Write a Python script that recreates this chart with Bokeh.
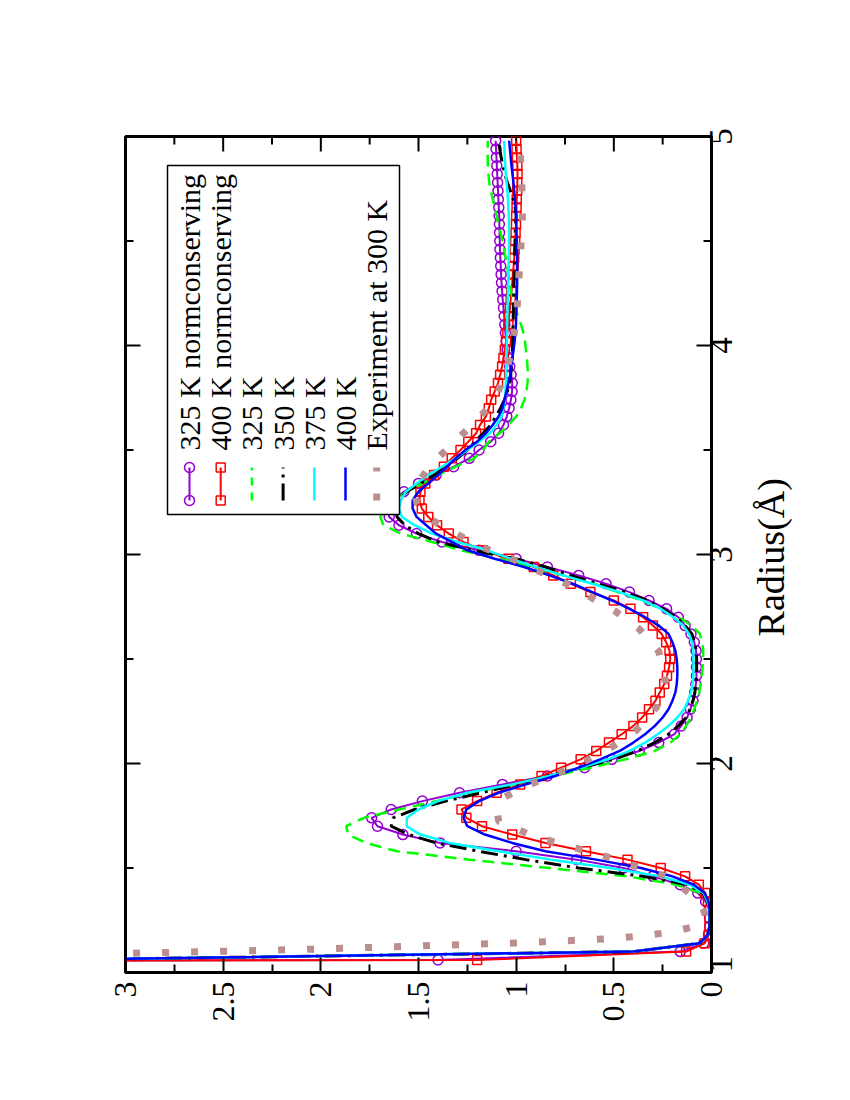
import math
from bokeh.plotting import figure
from bokeh.models import Range1d, FixedTicker, NumeralTickFormatter, LinearAxis
from bokeh.core.properties import value
from bokeh.embed import file_html
from bokeh.resources import INLINE

# ---------------- data ----------------
# common radius grid of the simulations (Angstrom)
R_SIM = [round(1.02 + 0.04 * i, 2) for i in range(100)]

G_325_NC = [25.0, 1.40, 0.16, 0.04, 0.015, 0.01, 0.01, 0.012, 0.03, 0.07,
            0.16, 0.30, 0.45, 0.69, 1.00, 1.39, 1.58, 1.71, 1.74, 1.64,
            1.48, 1.29, 1.07, 0.84, 0.65, 0.51, 0.37, 0.27, 0.19, 0.155,
            0.125, 0.108, 0.095, 0.086, 0.08, 0.077, 0.077, 0.077, 0.079, 0.088,
            0.105, 0.135, 0.17, 0.23, 0.32, 0.42, 0.54, 0.68, 0.84, 1.00,
            1.19, 1.38, 1.51, 1.60, 1.65, 1.66, 1.63, 1.575, 1.50, 1.41,
            1.32, 1.24, 1.19, 1.13, 1.09, 1.065, 1.048, 1.036, 1.027, 1.021,
            1.02, 1.026, 1.033, 1.04, 1.046, 1.051, 1.055, 1.058, 1.061, 1.065,
            1.069, 1.072, 1.075, 1.077, 1.079, 1.081, 1.083, 1.084, 1.085, 1.086,
            1.087, 1.089, 1.091, 1.093, 1.095, 1.097, 1.099, 1.101, 1.103, 1.105]

G_400_NC = [25.0, 1.20, 0.13, 0.035, 0.015, 0.01, 0.01, 0.01, 0.018, 0.032,
            0.065, 0.135, 0.26, 0.43, 0.643, 0.85, 1.02, 1.175, 1.255, 1.28,
            1.20, 1.10, 0.98, 0.87, 0.77, 0.67, 0.59, 0.525, 0.46, 0.40,
            0.355, 0.32, 0.287, 0.265, 0.242, 0.228, 0.217, 0.211, 0.215, 0.232,
            0.255, 0.30, 0.35, 0.415, 0.50, 0.62, 0.72, 0.81, 0.91, 1.04,
            1.17, 1.27, 1.345, 1.405, 1.45, 1.483, 1.495, 1.49, 1.465, 1.42,
            1.37, 1.33, 1.285, 1.245, 1.205, 1.185, 1.155, 1.14, 1.128, 1.11,
            1.093, 1.082, 1.072, 1.065, 1.058, 1.052, 1.045, 1.04, 1.036, 1.032,
            1.028, 1.024, 1.02, 1.017, 1.013, 1.01, 1.008, 1.005, 1.003, 1.001,
            1.0, 0.998, 0.997, 0.995, 0.994, 0.993, 0.994, 0.996, 0.998, 1.0]

G_325 = [20.0, 3.4, 0.40, 0.06, 0.02, 0.01, 0.01, 0.01, 0.02, 0.055,
         0.18, 0.43, 0.83, 1.24, 1.61, 1.77, 1.86, 1.87, 1.78, 1.60,
         1.41, 1.23, 1.01, 0.81, 0.62, 0.44, 0.29, 0.21, 0.16, 0.13,
         0.105, 0.088, 0.074, 0.063, 0.056, 0.05, 0.046, 0.043, 0.042, 0.047,
         0.06, 0.10, 0.17, 0.26, 0.36, 0.48, 0.60, 0.76, 0.92, 1.09,
         1.28, 1.43, 1.59, 1.68, 1.695, 1.67, 1.625, 1.56, 1.48, 1.40,
         1.31, 1.215, 1.17, 1.14, 1.085, 1.04, 1.0, 0.975, 0.958, 0.948,
         0.942, 0.94, 0.942, 0.945, 0.95, 0.955, 0.963, 0.975, 0.99, 1.005,
         1.018, 1.026, 1.033, 1.04, 1.047, 1.054, 1.062, 1.07, 1.08, 1.09,
         1.10, 1.11, 1.12, 1.13, 1.138, 1.142, 1.145, 1.146, 1.146, 1.145]

G_350 = [20.0, 3.4, 0.40, 0.06, 0.02, 0.01, 0.01, 0.01, 0.02, 0.045,
         0.12, 0.35, 0.68, 0.95, 1.19, 1.41, 1.55, 1.64, 1.63, 1.52,
         1.36, 1.18, 1.0, 0.84, 0.67, 0.50, 0.38, 0.29, 0.22, 0.17,
         0.13, 0.11, 0.095, 0.085, 0.08, 0.077, 0.076, 0.076, 0.078, 0.088,
         0.10, 0.135, 0.18, 0.25, 0.33, 0.44, 0.58, 0.72, 0.85, 1.0,
         1.22, 1.40, 1.50, 1.57, 1.61, 1.615, 1.60, 1.56, 1.49, 1.42,
         1.36, 1.30, 1.25, 1.21, 1.17, 1.13, 1.105, 1.08, 1.06, 1.045,
         1.035, 1.028, 1.024, 1.021, 1.019, 1.018, 1.017, 1.016, 1.015, 1.014,
         1.013, 1.012, 1.011, 1.01, 1.009, 1.008, 1.007, 1.006, 1.005, 1.003,
         1.0, 1.005, 1.015, 1.03, 1.045, 1.058, 1.068, 1.077, 1.084, 1.09]

G_375 = [20.0, 3.4, 0.40, 0.06, 0.02, 0.01, 0.01, 0.01, 0.02, 0.04,
         0.11, 0.26, 0.52, 0.82, 1.09, 1.34, 1.49, 1.56, 1.56, 1.50,
         1.40, 1.25, 1.02, 0.83, 0.67, 0.53, 0.42, 0.34, 0.275, 0.22,
         0.175, 0.14, 0.12, 0.105, 0.097, 0.093, 0.092, 0.092, 0.093, 0.10,
         0.115, 0.145, 0.195, 0.26, 0.35, 0.47, 0.61, 0.76, 0.90, 1.03,
         1.15, 1.30, 1.43, 1.52, 1.585, 1.60, 1.59, 1.565, 1.51, 1.45,
         1.38, 1.31, 1.25, 1.19, 1.135, 1.10, 1.075, 1.065, 1.058, 1.055,
         1.053, 1.052, 1.051, 1.05, 1.049, 1.048, 1.047, 1.046, 1.045, 1.044,
         1.043, 1.042, 1.041, 1.04, 1.039, 1.038, 1.037, 1.036, 1.036, 1.037,
         1.038, 1.04, 1.042, 1.045, 1.049, 1.053, 1.056, 1.058, 1.06, 1.061]

G_400 = [20.0, 3.4, 0.40, 0.06, 0.02, 0.01, 0.01, 0.01, 0.015, 0.035,
         0.09, 0.20, 0.36, 0.59, 0.85, 1.02, 1.16, 1.25, 1.27, 1.255,
         1.19, 1.09, 0.95, 0.80, 0.68, 0.57, 0.47, 0.40, 0.34, 0.29,
         0.25, 0.22, 0.20, 0.185, 0.178, 0.175, 0.175, 0.178, 0.185, 0.20,
         0.22, 0.27, 0.34, 0.42, 0.51, 0.61, 0.71, 0.83, 0.96, 1.11,
         1.25, 1.33, 1.41, 1.46, 1.51, 1.53, 1.53, 1.50, 1.45, 1.40,
         1.355, 1.31, 1.26, 1.20, 1.155, 1.12, 1.09, 1.07, 1.06, 1.05,
         1.04, 1.03, 1.025, 1.02, 1.013, 1.008, 1.004, 1.001, 1.0, 0.998,
         0.997, 0.996, 0.995, 0.995, 0.995, 0.995, 0.996, 0.997, 0.998, 0.999,
         1.0, 1.003, 1.007, 1.01, 1.014, 1.019, 1.024, 1.028, 1.032, 1.036]

R_EXP = [1.07, 1.092, 1.111, 1.142, 1.162, 1.175, 1.193, 1.215, 1.237, 1.27,
         1.31, 1.36, 1.40, 1.448, 1.50, 1.543, 1.583, 1.623, 1.666, 1.723,
         1.78, 1.838, 1.902, 1.954, 2.013, 2.079, 2.16, 2.268, 2.395, 2.536,
         2.643, 2.73, 2.80, 2.87, 2.928, 2.989, 3.04, 3.109, 3.176, 3.25,
         3.303, 3.366, 3.423, 3.523, 3.622, 3.725, 3.861, 3.996, 4.14, 4.278,
         4.42, 4.567, 4.71, 4.853, 5.0]
G_EXP = [4.0, 2.977, 2.056, 0.975, 0.515, 0.362, 0.206, 0.11, 0.043, 0.03,
         0.045, 0.092, 0.14, 0.199, 0.362, 0.495, 0.648, 0.802, 0.945, 1.089,
         1.10, 1.063, 0.923, 0.786, 0.643, 0.509, 0.384, 0.282, 0.236, 0.270,
         0.369, 0.495, 0.628, 0.764, 0.903, 1.044, 1.189, 1.328, 1.453, 1.51,
         1.52, 1.485, 1.444, 1.333, 1.223, 1.12, 1.053, 1.019, 0.998, 0.988,
         0.98, 0.968, 0.968, 0.976, 0.98]

SERIES_LABELS = ["325 K normconserving", "400 K normconserving", "325 K",
                 "350 K", "375 K", "400 K", "Experiment at 300 K"]
R_AXIS_TITLE = "Radius(Å)"

G_TICKS = [0, 0.5, 1, 1.5, 2, 2.5, 3]
G_MINOR = [0.25, 0.75, 1.25, 1.75, 2.25, 2.75]
R_TICKS = [1, 2, 3, 4, 5]
R_MINOR = [1.5, 2.5, 3.5, 4.5]

FONT = "Liberation Serif"

# ---------------- figure ----------------
FRAME_W, FRAME_H = 586, 836
G_MIN, G_MAX, R_MIN, R_MAX = 0, 3, 1, 5
R_PER_PX = (R_MAX - R_MIN) / FRAME_H
G_PER_PX = (G_MAX - G_MIN) / FRAME_W

p = figure(frame_width=FRAME_W, frame_height=FRAME_H,
           x_range=Range1d(G_MAX, G_MIN), y_range=Range1d(R_MIN, R_MAX),
           x_axis_location="below", y_axis_location="right",
           min_border_left=125, min_border_top=136,
           min_border_right=115, min_border_bottom=70,
           output_backend="svg", toolbar_location=None)
p.xgrid.visible = False
p.ygrid.visible = False
p.outline_line_color = "black"
p.outline_line_width = 3
p.background_fill_color = "white"
p.border_fill_color = "white"

xa = p.xaxis[0]
ya = p.yaxis[0]

# g axis (bottom)
xa.ticker = FixedTicker(ticks=G_TICKS, minor_ticks=G_MINOR)
xa.formatter = NumeralTickFormatter(format="0.[0]")
xa.major_tick_in = 15
xa.major_tick_out = 0
xa.minor_tick_in = 8
xa.minor_tick_out = 0
xa.major_tick_line_width = 2
xa.minor_tick_line_width = 2
xa.major_tick_line_color = "black"
xa.minor_tick_line_color = "black"
xa.major_label_text_font_size = "32px"

# radius axis (right).  A rotated label starts at its tick, so each label
# is anchored half a digit width (about 8 px) below its tick (kept inside the
# range for the lowest one); the tick marks are drawn at the true radii below.
DIGIT_HALF = 8.25 * R_PER_PX
r_label_pos = [max(t - DIGIT_HALF, R_MIN) for t in R_TICKS]
ya.ticker = FixedTicker(ticks=r_label_pos, minor_ticks=[])
ya.major_label_overrides = {pos: f"{t:g}" for pos, t in zip(r_label_pos, R_TICKS)}
ya.major_tick_line_color = None
ya.minor_tick_line_color = None
ya.major_tick_in = 0
ya.major_tick_out = 0
ya.minor_tick_in = 0
ya.minor_tick_out = 0
ya.major_label_text_font_size = "33px"

for ax in (xa, ya):
    ax.axis_line_color = "black"
    ax.axis_line_width = 3
    ax.major_label_text_font = FONT
    ax.major_label_text_color = "black"
    ax.major_label_orientation = math.pi / 2
    ax.major_label_standoff = 9

# radius axis title: an outer right axis carrying one rotated label,
# anchored half the title length (about 79 px) below its centre.
R_TITLE_CENTER = 2.986
R_TITLE_TICK = R_TITLE_CENTER - 79 * R_PER_PX
title_ax = LinearAxis(ticker=FixedTicker(ticks=[R_TITLE_TICK], minor_ticks=[]),
                      major_label_overrides={R_TITLE_TICK: R_AXIS_TITLE},
                      axis_line_color=None, major_tick_line_color=None,
                      minor_tick_line_color=None,
                      major_tick_in=0, major_tick_out=0,
                      minor_tick_in=0, minor_tick_out=0,
                      major_label_orientation=math.pi / 2,
                      major_label_standoff=26,
                      major_label_text_font=FONT,
                      major_label_text_font_size="38px",
                      major_label_text_color="black")
p.add_layout(title_ax, "right")

# inward radius ticks on the right edge, mirrored ticks on top and left edges
dg_major, dg_minor = 15 * G_PER_PX, 8 * G_PER_PX
dr_major, dr_minor = 15 * R_PER_PX, 8 * R_PER_PX
for g_edge, sign in ((G_MIN, 1), (G_MAX, -1)):
    p.segment(x0=[g_edge] * len(R_TICKS), x1=[g_edge + sign * dg_major] * len(R_TICKS),
              y0=R_TICKS, y1=R_TICKS, line_color="black", line_width=2)
    p.segment(x0=[g_edge] * len(R_MINOR), x1=[g_edge + sign * dg_minor] * len(R_MINOR),
              y0=R_MINOR, y1=R_MINOR, line_color="black", line_width=2)
p.segment(x0=G_TICKS, x1=G_TICKS, y0=[R_MAX] * len(G_TICKS),
          y1=[R_MAX - dr_major] * len(G_TICKS), line_color="black", line_width=2)
p.segment(x0=G_MINOR, x1=G_MINOR, y0=[R_MAX] * len(G_MINOR),
          y1=[R_MAX - dr_minor] * len(G_MINOR), line_color="black", line_width=2)

# ---------------- curves ----------------
p.line(G_325_NC, R_SIM, line_color="#9400d3", line_width=2)
p.scatter(G_325_NC, R_SIM, marker="circle", size=10, fill_color=None,
          line_color="#9400d3", line_width=1.5)
p.line(G_400_NC, R_SIM, line_color="#ff0000", line_width=2)
p.scatter(G_400_NC, R_SIM, marker="square", size=9, fill_color=None,
          line_color="#ff0000", line_width=1.5)
p.line(G_325, R_SIM, line_color="#00ff00", line_width=2.5, line_dash="12 7")
p.line(G_350, R_SIM, line_color="black", line_width=3, line_dash="17 6 3 6")
p.line(G_375, R_SIM, line_color="#00ffff", line_width=2.5)
p.line(G_400, R_SIM, line_color="#0000ff", line_width=2.5)
p.line(G_EXP, R_EXP, line_color="#bc8f8f", line_width=7, line_dash="7 22",
       line_cap="butt")

# ---------------- legend (drawn in the rotated frame) ----------------
def gx(px):
    """frame pixel offset from the left edge -> g value"""
    return G_MAX - px * G_PER_PX


def ry(py):
    """frame pixel offset from the top edge -> r value"""
    return R_MAX - py * R_PER_PX


p.quad(left=[gx(42)], right=[gx(274)], bottom=[ry(378)], top=[ry(29)],
       fill_color="white", line_color="black", line_width=1.5)

col_px = [64 + 31.2 * i for i in range(len(SERIES_LABELS))]
cols = [gx(c) for c in col_px]
r_lo, r_hi = ry(364), ry(331)

p.line([cols[0], cols[0]], [r_lo, r_hi], line_color="#9400d3", line_width=2)
p.scatter([cols[0], cols[0]], [r_lo, r_hi], marker="circle", size=10,
          fill_color=None, line_color="#9400d3", line_width=1.5)
p.line([cols[1], cols[1]], [r_lo, r_hi], line_color="#ff0000", line_width=2)
p.scatter([cols[1], cols[1]], [r_lo, r_hi], marker="square", size=9,
          fill_color=None, line_color="#ff0000", line_width=1.5)
p.line([cols[2], cols[2]], [r_lo, r_hi], line_color="#00ff00", line_width=2.5,
       line_dash="8 7")
p.line([cols[3], cols[3]], [r_lo, r_hi], line_color="black", line_width=3,
       line_dash="17 6 3 6")
p.line([cols[4], cols[4]], [r_lo, r_hi], line_color="#00ffff", line_width=2.5)
p.line([cols[5], cols[5]], [r_lo, r_hi], line_color="#0000ff", line_width=2.5)
p.line([cols[6], cols[6]], [r_lo, r_hi], line_color="#bc8f8f", line_width=7,
       line_dash="7 22", line_cap="butt")

p.text(x=cols, y=[ry(314)] * len(cols), text=SERIES_LABELS, angle=math.pi / 2,
       text_font=value(FONT), text_font_size="30px", text_color="black",
       text_align="left", text_baseline="middle")

open("out.html", "w").write(file_html(p, INLINE))
